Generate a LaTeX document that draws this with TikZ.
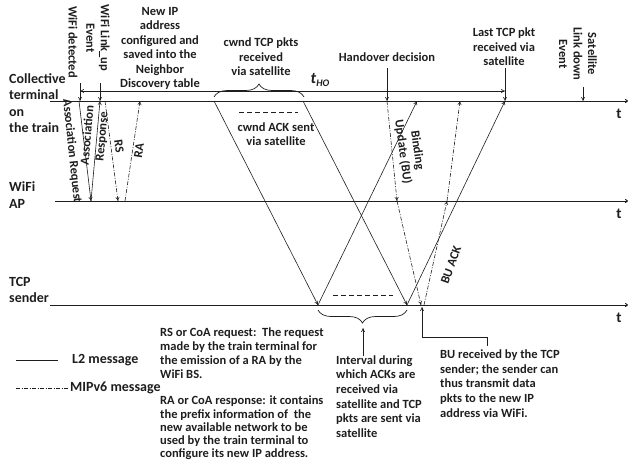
\documentclass[tikz,border=0pt]{standalone}
\usepackage{fontspec}
\setmainfont{Carlito}
\usetikzlibrary{arrows.meta,decorations.pathreplacing}
\definecolor{ink}{HTML}{1E1E1E}
\begin{document}
\begin{tikzpicture}[x=1pt,y=-1pt,
  every node/.style={font=\fontsize{12.5}{14.5}\selectfont\bfseries, text=ink, inner sep=0pt},
  lane/.style={anchor=west, align=left, font=\fontsize{14}{16.5}\selectfont\bfseries},
  tlab/.style={font=\fontsize{15}{15}\selectfont\bfseries},
  axisline/.style={draw=ink, line width=0.9pt, -{To[length=3pt,width=4pt]}},
  msg/.style={draw=ink, line width=0.6pt, -{To[length=4pt,width=4pt]}},
  mip/.style={msg, dash pattern=on 4pt off 1.5pt on 1pt off 1.5pt},
  bracebelt/.style={draw=ink, line width=0.7pt, decorate, decoration={brace, amplitude=13pt}},
  body/.style={anchor=west, align=left},
  leg/.style={anchor=west, font=\fontsize{14}{16}\selectfont\bfseries}
]
\useasboundingbox (0,0) rectangle (628,465);

% lanes
\coordinate (ct0) at (50,101); \coordinate (ct1) at (628,101);
\coordinate (ap0) at (55,201); \coordinate (ap1) at (628,201);
\coordinate (ts0) at (50,305); \coordinate (ts1) at (628,305);
\draw[axisline] (ct0) -- (ct1);
\draw[axisline] (ap0) -- (ap1);
\draw[axisline] (ts0) -- (ts1);
\node[tlab] (tc) at (619,114) {t};
\node[tlab] (ta) at (619,214) {t};
\node[tlab] (tt) at (619,318) {t};

\node[lane] (ctl) at (9,103) {Collective\\terminal\\on\\the train};
\node[lane] (apl) at (9,195) {WiFi\\AP};
\node[lane] (tsl) at (9,290) {TCP\\sender};

% events on the terminal line
\node[rotate=-90] (wdl) at (73,42) {WiFi detected};
\coordinate (wd0) at (80,83); \coordinate (wd1) at (80,101);
\draw[msg] (wd0) -- (wd1);
\node[rotate=-90, align=center] (lul) at (98,38) {WiFi Link\_up\\Event};
\coordinate (lu0) at (100,83); \coordinate (lu1) at (100,101);
\draw[msg] (lu0) -- (lu1);

\node[align=center] (nip) at (160,48.5) {New IP\\address\\configured and\\saved into the\\Neighbor\\Discovery table};

\node[align=center] (cwt) at (261,57) {cwnd TCP pkts\\received\\via satellite};
\coordinate (br0) at (214,97); \coordinate (br1) at (304,97);
\draw[bracebelt] (br0) -- (br1);

\node (tho) at (320,80) {{\fontsize{16}{16}\selectfont\itshape t}\raisebox{-3pt}{\fontsize{10}{10}\selectfont\itshape HO}};

\node (hod) at (387,57) {Handover decision};
\coordinate (hd0) at (387,68); \coordinate (hd1) at (387,101);
\draw[msg] (hd0) -- (hd1);

\node[align=center] (ltp) at (504,47) {Last TCP pkt\\received via\\satellite};
\coordinate (lt0) at (505,68); \coordinate (lt1) at (505,101);
\draw[msg] (lt0) -- (lt1);

\node[rotate=-90, align=center] (sld) at (578,54) {Satellite\\Link down\\Event};
\coordinate (sl0) at (583,87); \coordinate (sl1) at (583,101);
\draw[msg] (sl0) -- (sl1);

% t_HO interval
\coordinate (ho0) at (80,91); \coordinate (ho1) at (505,91);
\draw[draw=ink, line width=0.6pt, {To[length=4pt,width=4pt]}-{To[length=4pt,width=4pt]}] (ho0) -- (ho1);

% association and RS/RA
\coordinate (as0) at (79,101); \coordinate (as1) at (91,201); \coordinate (ar1) at (100,101);
\draw[msg] (as0) -- (as1);
\draw[msg] (as1) -- (ar1);
\node[rotate=-84] (asl) at (72,151) {Association Request};
\node[rotate=85, align=center] (arl) at (95,136) {Association\\Response};

\coordinate (rs0) at (105,101); \coordinate (rs1) at (118,201);
\coordinate (ra0) at (125,201); \coordinate (ra1) at (140,101);
\draw[mip] (rs0) -- (rs1);
\draw[mip] (ra0) -- (ra1);
\node[rotate=-82] (rsl) at (119,146) {RS};
\node[rotate=81] (ral) at (139,151) {RA};

% satellite TCP exchange
\node[align=center] (cwa) at (276,134) {cwnd ACK sent\\via satellite};
\coordinate (dk0) at (239,112); \coordinate (dk1) at (298,112);
\draw[draw=ink, line width=0.9pt, dash pattern=on 5pt off 3pt] (dk0) -- (dk1);

\coordinate (a0) at (214,101); \coordinate (a1) at (318,305);
\coordinate (b0) at (303,101); \coordinate (b1) at (407,305);
\coordinate (c1) at (417,101); \coordinate (d1) at (505,101);
\draw[msg] (a0) -- (a1);
\draw[msg] (b0) -- (b1);
\draw[msg] (a1) -- (c1);
\draw[msg] (b1) -- (d1);

\coordinate (ds0) at (333,295); \coordinate (ds1) at (393,295);
\draw[draw=ink, line width=0.9pt, dash pattern=on 5pt off 3pt] (ds0) -- (ds1);

% binding update and ack
\coordinate (bu0) at (387,101); \coordinate (bu1) at (397,201); \coordinate (bu2) at (421,305);
\draw[mip] (bu0) -- (bu1);
\draw[mip] (bu1) -- (bu2);
\node[rotate=-82, align=center] (bul) at (410,151) {Binding\\Update (BU)};

\coordinate (ba0) at (424,305); \coordinate (ba1) at (447,201); \coordinate (ba2) at (460,101);
\draw[mip] (ba0) -- (ba1);
\draw[mip] (ba1) -- (ba2);
\node[rotate=70] (bal) at (451,265) {BU ACK};

% bottom brace and annotations
\coordinate (bb0) at (407,310); \coordinate (bb1) at (318,310);
\draw[bracebelt] (bb0) -- (bb1);
\coordinate (iv0) at (363,356); \coordinate (iv1) at (363,328);
\draw[msg] (iv0) -- (iv1);
\node[body, font=\fontsize{12.5}{14.6}\selectfont\bfseries] (ivb) at (336,396.5) {Interval during\\which ACKs are\\received via\\satellite and TCP\\pkts are sent via\\satellite};

\coordinate (bk0) at (487,346); \coordinate (bk1) at (487,337); \coordinate (bk2) at (422,337); \coordinate (bk3) at (422,307);
\draw[msg] (bk0) -- (bk1) -- (bk2) -- (bk3);
\node[body, font=\fontsize{12.5}{14.8}\selectfont\bfseries] (bub) at (440,383.5) {BU received by the TCP\\sender; the sender can\\thus transmit data\\pkts to the new IP\\address via WiFi.};

% legend
\coordinate (la0) at (16,360); \coordinate (la1) at (58,360);
\draw[draw=ink, line width=0.8pt] (la0) -- (la1);
\node[leg] (l2) at (72,360) {L2 message};
\coordinate (lb0) at (16,388); \coordinate (lb1) at (68,388);
\draw[draw=ink, line width=0.6pt, dash pattern=on 4pt off 1.5pt on 1pt off 1.5pt] (lb0) -- (lb1);
\node[leg] (l6) at (70,388) {MIPv6 message};

\node[body, font=\fontsize{12.5}{14}\selectfont\bfseries] (rsb) at (160,353) {RS or CoA request:\ \ The request\\made by the train terminal for\\the emission of a RA by the\\WiFi BS.};
\node[body, font=\fontsize{12.5}{13.2}\selectfont\bfseries] (rab) at (160,428) {RA or CoA response: it contains\\the prefix information of\ \ the\\new available network to be\\used by the train terminal to\\configure its new IP address.};
\end{tikzpicture}
\end{document}
